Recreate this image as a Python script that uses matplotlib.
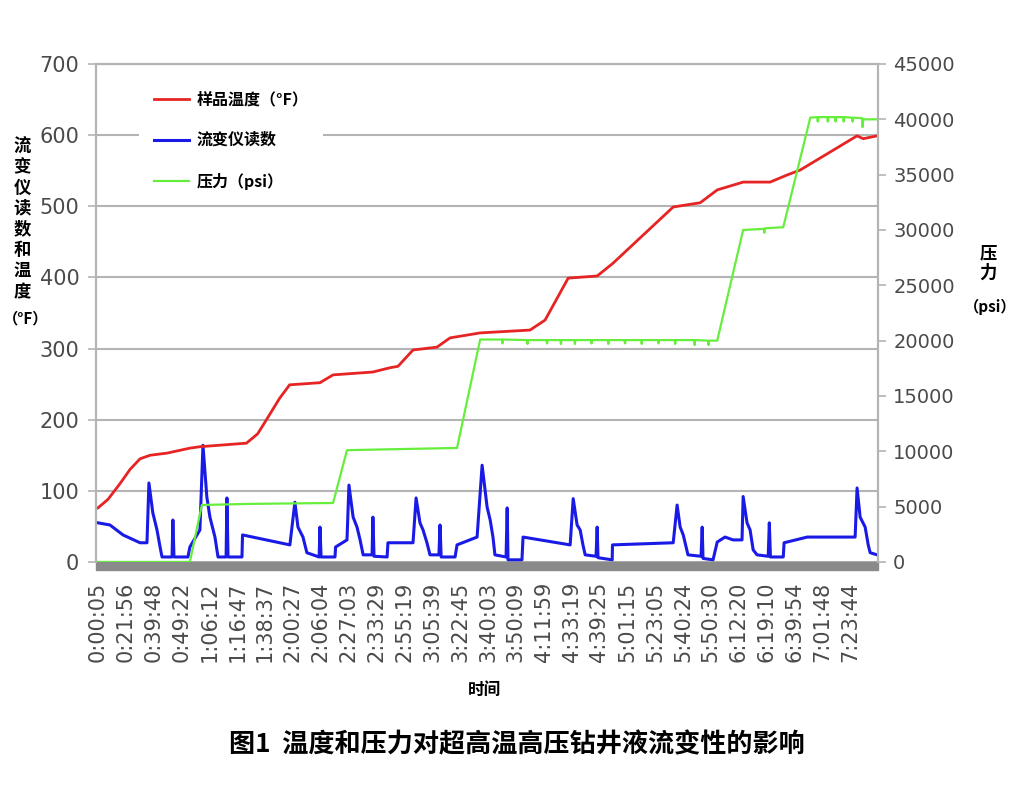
import matplotlib
matplotlib.use("Agg")
import matplotlib.pyplot as plt
from matplotlib.patches import Rectangle

plt.rcParams['font.family'] = ['DejaVu Sans', 'Noto Sans CJK SC']

# time labels on the category axis (one per step)
time_labels = ["0:00:05", "0:21:56", "0:39:48", "0:49:22", "1:06:12", "1:16:47",
               "1:38:37", "2:00:27", "2:06:04", "2:27:03", "2:33:29", "2:55:19",
               "3:05:39", "3:22:45", "3:40:03", "3:50:09", "4:11:59", "4:33:19",
               "4:39:25", "5:01:15", "5:23:05", "5:40:24", "5:50:30", "6:12:20",
               "6:19:10", "6:39:54", "7:01:48", "7:23:44"]

# sample temperature (F), x in label steps
temp_x = [0.00, 0.36, 0.79, 1.15, 1.51, 1.87, 2.48, 3.30, 3.66, 5.33, 5.73, 6.05,
          6.52, 6.88, 7.97, 8.44, 9.87, 10.48, 10.77, 11.31, 12.17, 12.64, 13.72,
          15.51, 16.05, 16.88, 17.92, 18.49, 20.65, 21.62, 22.23, 23.16, 24.13,
          24.74, 25.21, 27.25, 27.47, 27.97]
temp_v = [76, 88, 110, 130, 145, 150, 153, 160, 162, 167, 180, 200,
          230, 249, 252, 263, 267, 273, 275, 298, 302, 315, 322,
          326, 340, 399, 402, 420, 499, 505, 523, 534, 534,
          544, 551, 599, 595, 599]

# rheometer reading
rheo_x = [0.00, 0.43, 0.90, 1.51, 1.76, 1.83, 1.97, 2.12, 2.23, 2.30, 2.66, 2.69,
          2.73, 3.23, 3.30, 3.66, 3.77, 3.91, 4.02, 4.20, 4.31, 4.60, 4.63, 4.67,
          5.17, 5.19, 6.89, 7.07, 7.18, 7.36, 7.50, 7.94, 7.97, 8.01, 8.51, 8.53,
          8.94, 9.01, 9.16, 9.30, 9.41, 9.52, 9.84, 9.87, 9.91, 10.38, 10.41,
          11.31, 11.42, 11.56, 11.67, 11.81, 11.92, 12.24, 12.28, 12.32, 12.82,
          12.89, 13.61, 13.79, 13.97, 14.08, 14.18, 14.25, 14.65, 14.69, 14.72,
          15.22, 15.26, 16.95, 17.06, 17.20, 17.31, 17.41, 17.49, 17.88, 17.92,
          17.95, 18.46, 18.47, 20.65, 20.79, 20.90, 21.01, 21.18, 21.65, 21.69,
          21.72, 22.08, 22.23, 22.51, 22.80, 23.12, 23.16, 23.30, 23.41, 23.52,
          23.66, 24.06, 24.10, 24.14, 24.60, 24.63, 25.46, 27.18, 27.25, 27.36,
          27.54, 27.65, 27.72, 27.97]
rheo_v = [55, 52, 38, 27, 27, 111, 69, 45, 21, 7, 7, 59,
          7, 7, 21, 45, 164, 91, 63, 35, 7, 7, 90, 7,
          7, 38, 24, 84, 49, 35, 13, 7, 49, 7, 7, 21,
          31, 108, 63, 49, 31, 10, 10, 63, 8, 7, 27,
          27, 90, 55, 45, 27, 10, 10, 52, 7, 7,
          24, 35, 136, 77, 59, 35, 10, 7, 76, 3,
          3, 35, 24, 89, 52, 45, 24, 10, 8, 49,
          6, 3, 24, 27, 80, 49, 38, 10, 8, 49,
          5, 3, 28, 35, 31, 31, 92, 55, 45, 17,
          10, 8, 55, 7, 7, 27, 35, 35, 104, 63,
          49, 24, 13, 10]

# pressure (psi)
pres_x = [0.00, 3.30, 3.73, 5.50, 8.44, 8.94, 10.80, 12.89, 13.72, 14.50, 14.52,
          14.54, 15.40, 15.42, 15.44, 16.10, 16.12, 16.14, 16.60, 16.62, 16.64,
          17.10, 17.12, 17.14, 17.70, 17.72, 17.74, 18.30, 18.32, 18.34, 18.90,
          18.92, 18.94, 19.50, 19.52, 19.54, 20.10, 20.12, 20.14, 20.70, 20.72,
          20.74, 21.40, 21.42, 21.44, 21.90, 21.92, 21.94, 22.23, 23.16, 23.90,
          23.92, 23.94, 24.60, 25.57, 25.82, 25.84, 25.86, 26.18, 26.20, 26.22,
          26.46, 26.48, 26.50, 26.75, 26.77, 26.79, 27.07, 27.09, 27.11, 27.43,
          27.45, 27.47, 28.00]
pres_v = [0, 0, 5150, 5250, 5330, 10100, 10200, 10300, 20100, 20100, 19750,
          20100, 20050, 19700, 20050, 20050, 19750, 20050, 20050, 19700, 20050,
          20050, 19700, 20050, 20050, 19750, 20050, 20050, 19700, 20050, 20050,
          19750, 20050, 20050, 19700, 20050, 20050, 19750, 20050, 20050, 19700,
          20050, 20050, 19600, 20050, 20000, 19600, 20000, 20000, 30000, 30100,
          29750, 30150, 30250, 40150, 40200, 39800, 40200, 40200, 39800, 40200,
          40200, 39800, 40200, 40200, 39800, 40200, 40150, 39800, 40150, 40100,
          39300, 40000, 40000]

TEMP_LABEL = "样品温度（°F）"
RHEO_LABEL = "流变仪读数"
PRES_LABEL = "压力（psi）"

CJK = ['Noto Sans CJK SC', 'DejaVu Sans']
TICK_COLOR = "#4a4a4a"
GRID_COLOR = "#b4b4b4"


def main():
    fig = plt.figure(figsize=(10.19, 7.97), dpi=100)
    ax = fig.add_axes([0.0942, 0.2949, 0.7674, 0.6248])
    ax2 = ax.twinx()

    ln_t, = ax.plot(temp_x, temp_v, color="#e62424", lw=2.0, label=TEMP_LABEL, zorder=4)
    ln_r, = ax.plot(rheo_x, rheo_v, color="#1a1ae6", lw=2.2, label=RHEO_LABEL, zorder=3)
    ln_p, = ax2.plot(pres_x, pres_v, color="#66ee3c", lw=1.6, label=PRES_LABEL)

    ax.set_xlim(-0.07, 28.0)
    ax.set_ylim(0, 700)
    ax2.set_ylim(0, 45000)
    ax.set_yticks(range(0, 701, 100))
    ax2.set_yticks(range(0, 45001, 5000))
    ax.set_xticks(range(len(time_labels)))
    ax.set_xticklabels(time_labels, rotation=90, fontsize=15, color=TICK_COLOR)

    ax.yaxis.grid(True, color=GRID_COLOR, lw=1.5)
    ax.set_axisbelow(True)
    for a in (ax, ax2):
        for s in a.spines.values():
            s.set_color(GRID_COLOR)
            s.set_linewidth(1.5)
        a.spines['bottom'].set_visible(False)
    ax.tick_params(axis='y', labelsize=15, colors=TICK_COLOR, length=6, width=1.2,
                   color=GRID_COLOR, pad=6)
    ax2.tick_params(axis='y', labelsize=14, colors=TICK_COLOR, length=6, width=1.2,
                    color=GRID_COLOR, pad=5)
    ax.tick_params(axis='x', length=0, pad=14)

    # thick gray base bar under the axis
    ax.add_patch(Rectangle((0, -0.017), 1, 0.017, transform=ax.transAxes,
                           color="#8a8a8a", clip_on=False, zorder=5))

    leg = ax.legend(handles=[ln_t, ln_r, ln_p], loc='upper left',
                    bbox_to_anchor=(0.045, 0.99), frameon=True, framealpha=1,
                    edgecolor='none', facecolor='white', handlelength=2.2,
                    labelspacing=1.55, borderpad=0.9, handletextpad=0.5,
                    prop={'family': CJK, 'weight': 'bold', 'size': 11.5})
    leg.set_zorder(10)

    fig.text(0.022, 0.725, "流\n变\n仪\n读\n数\n和\n温\n度", family=CJK,
             weight='bold', fontsize=12.5, ha='center', va='center', linespacing=1.2)
    fig.text(0.025, 0.601, "（°F）", family=CJK, weight='bold', fontsize=11,
             ha='center', va='center')

    fig.text(0.970, 0.670, "压\n力", family=CJK, weight='bold', fontsize=12.5,
             ha='center', va='center', linespacing=1.1)
    fig.text(0.972, 0.615, "（psi）", family=CJK, weight='bold', fontsize=11,
             ha='center', va='center')

    fig.text(0.475, 0.134, "时间", family=CJK, weight='bold', fontsize=12,
             ha='center', va='center')
    fig.text(0.507, 0.065, "图1  温度和压力对超高温高压钻井液流变性的影响",
             family=CJK, weight='bold', fontsize=18.8, ha='center', va='center')

    fig.savefig("out.png", dpi=100)
    plt.close(fig)


if __name__ == "__main__":
    main()
